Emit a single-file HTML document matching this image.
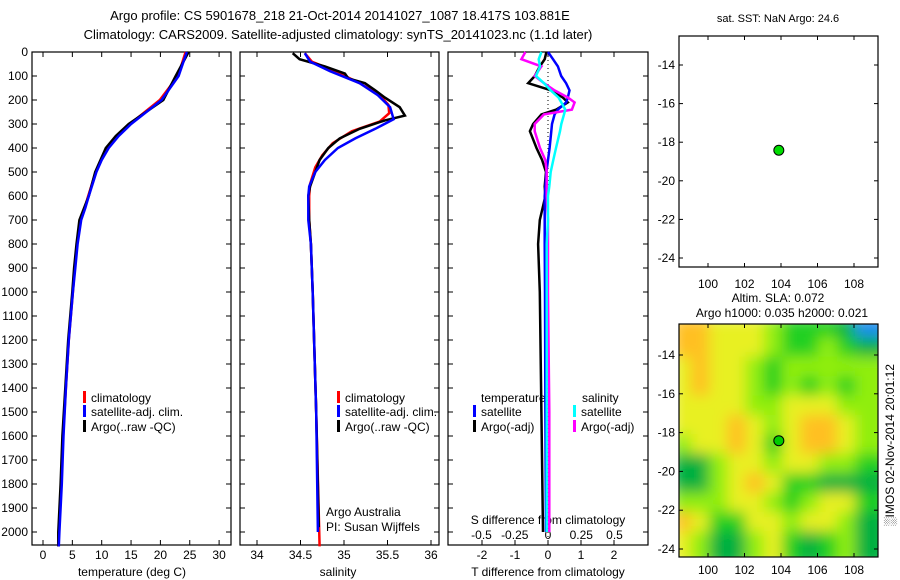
<!DOCTYPE html>
<html><head><meta charset="utf-8">
<style>
body{margin:0;background:#fff;}
svg{display:block;font-family:"Liberation Sans",Arial,sans-serif;}
</style></head>
<body>
<svg id="fig" width="900" height="580" viewBox="0 0 900 580" xmlns="http://www.w3.org/2000/svg">
<filter id="blur" x="0" y="0" width="1" height="1"><feGaussianBlur stdDeviation="7" edgeMode="duplicate"/></filter>
<clipPath id="mapclip"><rect x="679" y="324" width="199" height="233"/></clipPath>
</svg>
<script>
// ---- data ----
const depthTicks=[0,100,200,300,400,500,600,700,800,900,1000,1100,1200,1300,1400,1500,1600,1700,1800,1900,2000];
const tempTicks=[0,5,10,15,20,25,30];
const salTicks=[34,34.5,35,35.5,36];
const tdiffTicks=[-2,-1,0,1,2];
const sdiffTicks=[-0.5,-0.25,0,0.25,0.5];
const lonTicks=[100,102,104,106,108];
const latTicks=[-14,-16,-18,-20,-22,-24];

const tempDepth=[0,100,200,300,350,400,450,500,600,650,700,800,900,1000,1200,1400,1600,1800,2000,2060];
const tempClim=[24.3,23.0,19.9,14.8,12.8,11.0,9.9,9.0,7.7,7.1,6.4,5.8,5.4,5.1,4.4,3.9,3.4,3.1,2.7,2.6];
const tempSat=[24.5,23.1,20.2,15.0,12.9,11.2,10.0,9.1,7.8,7.2,6.5,5.9,5.5,5.1,4.4,3.9,3.5,3.2,2.8,2.7];
const tempArgo=[24.8,22.6,20.5,14.6,12.4,10.7,9.8,8.9,7.8,7.0,6.2,5.7,5.3,5.0,4.3,3.8,3.3,3.0,2.6,2.6];

const salDepthArgo=[5,30,60,90,110,130,160,190,230,265,285,320,360,400,450,500,560,600,700,800,1000,1500,1980];
const salArgo=[34.41,34.49,34.78,35.01,35.05,35.24,35.36,35.47,35.64,35.70,35.47,35.18,34.95,34.82,34.72,34.67,34.61,34.59,34.60,34.62,34.64,34.68,34.71];
const salDepthClim=[5,40,80,130,180,220,255,290,330,380,430,480,550,600,700,800,1000,1500,2060];
const salClim=[34.55,34.63,34.90,35.18,35.41,35.51,35.52,35.41,35.09,34.87,34.75,34.67,34.61,34.60,34.60,34.62,34.64,34.68,34.72];
const salDepthSat=[5,40,80,130,180,230,280,320,360,400,450,500,560,600,700,800,1000,1500,2000];
const salSat=[34.55,34.61,34.84,35.18,35.39,35.53,35.57,35.36,35.13,34.93,34.78,34.67,34.60,34.59,34.59,34.62,34.64,34.68,34.70];

const diffDepth=[0,30,60,100,130,160,190,210,240,260,300,330,400,450,500,560,600,700,800,1000,1500,2000];
const tdiffSat=[0.0,0.15,0.3,0.4,0.55,0.65,0.6,0.55,0.3,0.2,0.12,0.1,0.05,0.0,-0.05,-0.08,-0.1,-0.1,-0.1,-0.09,-0.08,-0.06];
const tdiffArgo=[-0.05,-0.1,-0.25,-0.4,-0.6,0.1,0.45,0.6,0.25,-0.2,-0.45,-0.55,-0.35,-0.18,-0.06,-0.1,-0.08,-0.25,-0.3,-0.25,-0.2,-0.15];
const sdiffSat=[-0.05,-0.07,-0.06,-0.09,-0.03,0.02,0.08,0.1,0.13,0.12,0.1,0.09,0.06,0.04,0.02,0.01,0.0,0.0,-0.01,-0.01,-0.01,-0.01];
const sdiffArgo=[-0.17,-0.2,-0.05,-0.1,-0.03,0.05,0.15,0.2,0.18,-0.03,-0.1,-0.1,-0.06,-0.02,-0.01,-0.01,-0.01,0.0,0.0,0.0,0.01,0.01];

const argoLon=103.881, argoLat=-18.417;
const slaLats=[-13,-14,-15,-16,-17,-18,-19,-20,-21,-22,-23,-24];
const slaLons=[99,100,101,102,103,104,105,106,107,108,109];
const slaGrid=[
[5,5,4,4,4,3,2,2,2,1,0],
[5,5,4,4,4,3,2,2,3,2,1],
[4,5,4,4,3,2,3,3,3,3,3],
[4,5,4,4,3,2,3,2,3,2,3],
[4,4,4,4,3,3,4,4,4,3,3],
[4,4,4,5,4,3,4,5,5,4,3],
[3,4,4,5,4,2,4,5,5,4,3],
[1,1,3,4,4,3,4,4,3,3,2],
[1,1,3,4,5,4,2,2,1,1,1],
[3,3,3,4,4,3,2,3,4,4,2],
[5,4,2,2,4,4,3,4,4,3,1],
[4,3,1,1,3,4,2,1,2,3,1]];
const slaColors=['#1e8cf0','#00b040','#20d020','#90ee10','#e8f020','#ffc020'];

// ---- helpers ----
const svg=document.getElementById('fig');
const NS='http://www.w3.org/2000/svg';
function mk(tag,attrs,parent){const e=document.createElementNS(NS,tag);for(const k in attrs)e.setAttribute(k,attrs[k]);(parent||svg).appendChild(e);return e;}
function txt(x,y,s,anchor,size,parent){const t=mk('text',{x:x,y:y,'text-anchor':anchor||'middle','font-size':size||12,fill:'#000'},parent);t.textContent=s;return t;}

const Y0=52, PY=0.24, BOT=545;
const yD=d=>Y0+d*PY;
const xT=v=>43+v*5.87;
const xS=v=>257+(v-34)*87;
const xTd=v=>548+v*33;
const xSd=v=>548+v*133;
const xLon1=v=>708+(v-100)*18.25;
const yLat1=v=>65+(-14-v)*19.3;
const yLat2=v=>355+(-14-v)*19.4;

function frame(x0,x1,name){
  const g=mk('g',{});
  
  
  mk('rect',{x:x0,y:Y0,width:x1-x0,height:BOT-Y0,fill:'none',stroke:'#000','stroke-width':1.2},g);
  depthTicks.forEach(d=>{mk('line',{x1:x0,x2:x0+5,y1:yD(d),y2:yD(d),stroke:'#000'},g);mk('line',{x1:x1,x2:x1-5,y1:yD(d),y2:yD(d),stroke:'#000'},g);});
  return g;
}
function series(xs,ds,fx,color,name,w){
  const p=mk('polyline',{points:xs.map((v,i)=>fx(v).toFixed(1)+','+yD(ds[i]).toFixed(1)).join(' '),fill:'none',stroke:color,'stroke-width':w||2.5,'stroke-linejoin':'miter'});
  
  
}
function xticks(g,ticks,fx,y,labels){ticks.forEach(v=>{mk('line',{x1:fx(v),x2:fx(v),y1:BOT,y2:BOT-5,stroke:'#000'},g);mk('line',{x1:fx(v),x2:fx(v),y1:Y0,y2:Y0+5,stroke:'#000'},g);if(labels)txt(fx(v),y,String(v),'middle',12,g);});}
function legend(x,y,color,label,g){mk('rect',{x:x,y:y-11,width:3,height:12,fill:color},g);txt(x+8,y,label,'start',12,g);}

// titles
const t1=txt(340,20,'Argo profile: CS 5901678_218 21-Oct-2014 20141027_1087 18.417S 103.881E','middle',13);


const t2=txt(338,39,'Climatology: CARS2009. Satellite-adjusted climatology: synTS_20141023.nc (1.1d later)','middle',13);



// panel 1 temperature
const g1=frame(32,231,'temperature-panel');
depthTicks.forEach(d=>txt(28,yD(d)+4,String(d),'end',12,g1));
xticks(g1,tempTicks,xT,559,true);
txt(132,576,'temperature (deg C)','middle',12,g1);
series(tempClim,tempDepth,xT,'#ff0000','temp-climatology-line');
series(tempArgo,tempDepth,xT,'#000000','temp-argo-line');
series(tempSat,tempDepth,xT,'#0000ff','temp-satellite-line');
legend(83,402,'#ff0000','climatology',g1);
legend(83,416,'#0000ff','satellite-adj. clim.',g1);
legend(83,431,'#000000','Argo(..raw -QC)',g1);

// panel 2 salinity
const g2=frame(240,439,'salinity-panel');
xticks(g2,salTicks,xS,559,true);
txt(338,576,'salinity','middle',12,g2);
series(salClim,salDepthClim,xS,'#ff0000','sal-climatology-line');
series(salArgo,salDepthArgo,xS,'#000000','sal-argo-line');
series(salSat,salDepthSat,xS,'#0000ff','sal-satellite-line');
legend(337,402,'#ff0000','climatology',g2);
legend(337,416,'#0000ff','satellite-adj. clim.',g2);
legend(337,431,'#000000','Argo(..raw -QC)',g2);
txt(326,516,'Argo Australia','start',12,g2);
txt(326,531,'PI: Susan Wijffels','start',12,g2);

// panel 3 differences
const g3=frame(448,648,'difference-panel');
xticks(g3,tdiffTicks,xTd,559,true);
sdiffTicks.forEach(v=>txt(xSd(v),539,String(v),'middle',12,g3));
txt(548,524,'S difference from climatology','middle',12,g3);
txt(548,576,'T difference from climatology','middle',12,g3);
mk('line',{x1:548,x2:548,y1:Y0,y2:BOT,stroke:'#000','stroke-dasharray':'1,3'},g3);
series(tdiffArgo,diffDepth,xTd,'#000000','tdiff-argo-line');
series(tdiffSat,diffDepth,xTd,'#0000ff','tdiff-satellite-line');
series(sdiffArgo,diffDepth,xSd,'#ff00ff','sdiff-argo-line');
series(sdiffSat,diffDepth,xSd,'#00ffff','sdiff-satellite-line');
txt(481,402,'temperature','start',12,g3);
legend(473,416,'#0000ff','satellite',g3);
legend(473,431,'#000000','Argo(-adj)',g3);
txt(582,402,'salinity','start',12,g3);
legend(573,416,'#00ffff','satellite',g3);
legend(573,431,'#ff00ff','Argo(-adj)',g3);

// map 1 SST
const m1=mk('g',{});


mk('rect',{x:679,y:36,width:199,height:231,fill:'#fff',stroke:'#000','stroke-width':1.2},m1);
txt(778,22,'sat. SST: NaN Argo: 24.6','middle',11,m1);
lonTicks.forEach(v=>{mk('line',{x1:xLon1(v),x2:xLon1(v),y1:267,y2:263,stroke:'#000'},m1);mk('line',{x1:xLon1(v),x2:xLon1(v),y1:36,y2:40,stroke:'#000'},m1);txt(xLon1(v),288,String(v),'middle',12,m1);});
latTicks.forEach(v=>{mk('line',{x1:679,x2:683,y1:yLat1(v),y2:yLat1(v),stroke:'#000'},m1);mk('line',{x1:878,x2:874,y1:yLat1(v),y2:yLat1(v),stroke:'#000'},m1);txt(675,yLat1(v)+4,String(v),'end',12,m1);});
const d1=mk('circle',{cx:xLon1(argoLon),cy:yLat1(argoLat),r:5,fill:'#00dd00',stroke:'#000','stroke-width':1});



// map 2 SLA
const m2=mk('g',{});


txt(778,302,'Altim. SLA: 0.072','middle',12,m2);
txt(782,317,'Argo h1000: 0.035 h2000: 0.021','middle',12,m2);
const hg=mk('g',{'clip-path':'url(#mapclip)'},m2);
const hb=mk('g',{filter:'url(#blur)'},hg);
const cw=18.25, ch=19.4;
slaGrid.forEach((row,r)=>row.forEach((v,c)=>{
  const cell=mk('rect',{x:(xLon1(slaLons[c])-cw/2-8).toFixed(1),y:(yLat2(slaLats[r])-ch/2-8).toFixed(1),width:cw+16,height:ch+16,fill:slaColors[v]},hb);
  
  
}));
mk('rect',{x:679,y:324,width:199,height:233,fill:'none',stroke:'#000','stroke-width':1.2},m2);
lonTicks.forEach(v=>{mk('line',{x1:xLon1(v),x2:xLon1(v),y1:557,y2:553,stroke:'#000'},m2);mk('line',{x1:xLon1(v),x2:xLon1(v),y1:324,y2:328,stroke:'#000'},m2);txt(xLon1(v),574,String(v),'middle',12,m2);});
latTicks.forEach(v=>{mk('line',{x1:679,x2:683,y1:yLat2(v),y2:yLat2(v),stroke:'#000'},m2);mk('line',{x1:878,x2:874,y1:yLat2(v),y2:yLat2(v),stroke:'#000'},m2);txt(675,yLat2(v)+4,String(v),'end',12,m2);});
const d2=mk('circle',{cx:xLon1(argoLon),cy:yLat2(argoLat),r:5,fill:'#00cc00',stroke:'#000','stroke-width':1});


const st=txt(0,0,'\u2591IMOS 02-Nov-2014 20:01:12','middle',12);
st.setAttribute('transform','translate(894,445) rotate(-90)');


</script>
</body></html>
